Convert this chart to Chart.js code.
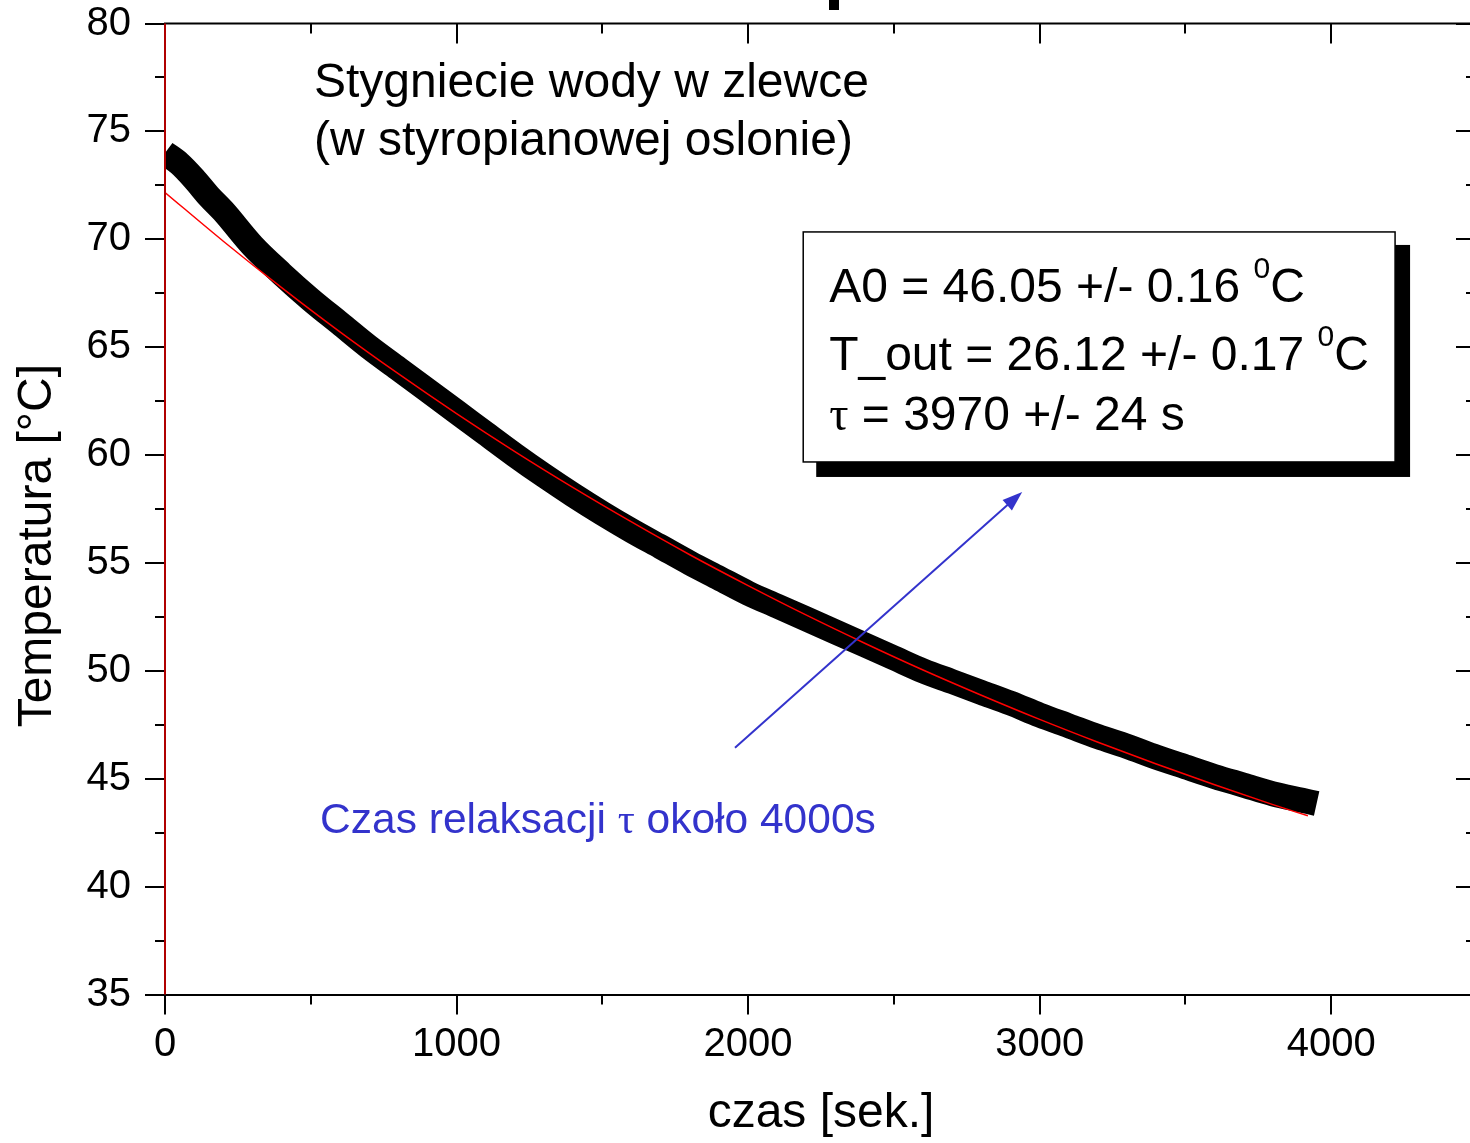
<!DOCTYPE html>
<html><head><meta charset="utf-8">
<script src="https://cdn.jsdelivr.net/npm/chart.js@4/dist/chart.umd.min.js"></script>
<style>
html,body{margin:0;padding:0;background:#fff;overflow:hidden;}
#wrap{position:absolute;left:0;top:0;width:1490px;height:1143px;}
</style></head><body>
<div id="wrap"><canvas id="c" width="1490" height="1143"></canvas></div>
<script>
// measured temperature (centre of the thick data band), time in s
const timeSec = [0,50,100,150,200,300,400,500,600,700,800,900,1000,1100,1200,1300,1400,1500,1600,1700,1800,1900,2000,2100,2200,2300,2400,2500,2600,2700,2800,2900,3000,3100,3200,3300,3400,3500,3600,3700,3800,3900,3950];
const tempMeasured = [74.0,73.5,72.8,72.0,71.3,69.7,68.4,67.2,66.1,65.0,64.0,63.0,62.0,61.0,60.0,59.05,58.15,57.3,56.5,55.75,55.0,54.3,53.6,53.0,52.4,51.8,51.2,50.6,50.0,49.5,49.0,48.5,47.95,47.45,46.95,46.5,46.0,45.55,45.1,44.7,44.3,44.0,43.85];
// fitted curve (red)
const fitTime = [0,200,400,600,800,1000,1200,1400,1600,1800,2000,2200,2400,2600,2800,3000,3200,3400,3600,3800,3920];
const fitTemp = [72.17,69.91,67.76,65.71,63.77,61.92,60.16,58.49,56.90,55.38,53.95,52.58,51.28,50.04,48.87,47.75,46.69,45.68,44.72,43.80,43.28];
// axes
const xMin = 0, xMax = 4500, xMinor = 500;
const yMin = 35, yMax = 80, yMinor = 2.5;
const xTickLabels = [0, 1000, 2000, 3000, 4000];
const yTickLabels = [35, 40, 45, 50, 55, 60, 65, 70, 75, 80];
// texts
const titleLines = ['Stygniecie wody w zlewce', '(w styropianowej oslonie)'];
const fitParams = [['A0 = 46.05 +/- 0.16 ', '0', 'C'], ['T_out = 26.12 +/- 0.17 ', '0', 'C'], ['τ', ' = 3970 +/- 24 s']];
const noteText = ['Czas relaksacji ', 'τ', ' około 4000s'];

const SANS = '"Liberation Sans", Arial, sans-serif';
const SERIF = '"Liberation Serif", "Times New Roman", serif';
const BLUE = '#3333cc';

function runs(ctx, x, y, parts) {
  let cx = x;
  for (const p of parts) {
    ctx.font = p.font;
    ctx.fillText(p.t, cx, y + (p.dy || 0));
    cx += ctx.measureText(p.t).width;
  }
  return cx;
}

const decor = {
  id: 'decor',
  afterDraw(chart) {
    const ctx = chart.ctx, xs = chart.scales.x, ys = chart.scales.y, a = chart.chartArea;
    const px = v => xs.getPixelForValue(v), py = v => ys.getPixelForValue(v);
    ctx.save();
    // top and right spines
    ctx.strokeStyle = '#000'; ctx.lineWidth = 2;
    ctx.beginPath(); ctx.moveTo(a.left - 1, a.top); ctx.lineTo(a.right, a.top); ctx.stroke();
    ctx.beginPath(); ctx.moveTo(a.right, a.top); ctx.lineTo(a.right, a.bottom); ctx.stroke();
    // x ticks (bottom outward, top inward)
    for (let v = xMin; v <= xMax + 1e-6; v += xMinor) {
      const major = xTickLabels.includes(v) || v === xMax;
      const L = major ? 20 : 10, x = Math.round(px(v));
      ctx.beginPath(); ctx.moveTo(x, a.bottom); ctx.lineTo(x, a.bottom + L); ctx.stroke();
      ctx.beginPath(); ctx.moveTo(x, a.top); ctx.lineTo(x, a.top + L); ctx.stroke();
    }
    // y ticks (left outward, right inward)
    for (let v = yMin; v <= yMax + 1e-6; v += yMinor) {
      const major = yTickLabels.includes(v);
      const L = major ? 20 : 10, y = Math.round(py(v));
      ctx.beginPath(); ctx.moveTo(a.left - L, y); ctx.lineTo(a.left, y); ctx.stroke();
      ctx.beginPath(); ctx.moveTo(a.right - L - 1, y); ctx.lineTo(a.right, y); ctx.stroke();
    }
    // left axis line (dark red)
    ctx.strokeStyle = '#b00000'; ctx.lineWidth = 2;
    ctx.beginPath(); ctx.moveTo(Math.round(a.left), a.top); ctx.lineTo(Math.round(a.left), a.bottom); ctx.stroke();

    // stray mark at top (part of cut-off header)
    ctx.fillStyle = '#000';
    ctx.fillRect(Math.round(px(2278)), 0, 10, 10);

    // y-axis title
    ctx.save();
    ctx.translate(a.left - 127, py(55.8));
    ctx.rotate(-Math.PI / 2);
    ctx.textAlign = 'center'; ctx.textBaseline = 'middle';
    ctx.font = '48px ' + SANS; ctx.fillStyle = '#000';
    ctx.fillText('Temperatura [°C]', 0, 0);
    ctx.restore();

    ctx.textAlign = 'left'; ctx.textBaseline = 'alphabetic'; ctx.fillStyle = '#000';
    // title
    ctx.font = '48px ' + SANS;
    ctx.fillText(titleLines[0], px(511), py(76.59));
    ctx.fillText(titleLines[1], px(511), py(73.91));

    // fit-parameter box with shadow
    const bx0 = px(2189), by0 = py(70.34), bx1 = px(4219), by1 = py(59.68);
    ctx.fillStyle = '#000';
    ctx.fillRect(bx0 + 13, by0 + 13, bx1 - bx0 + 2, by1 - by0 + 2);
    ctx.fillStyle = '#fff';
    ctx.fillRect(bx0, by0, bx1 - bx0, by1 - by0);
    ctx.strokeStyle = '#000'; ctx.lineWidth = 1.5;
    ctx.strokeRect(bx0, by0, bx1 - bx0, by1 - by0);
    ctx.fillStyle = '#000';
    const F = '48px ' + SANS, FS = '30px ' + SANS;
    const tx = px(2278);
    runs(ctx, tx, py(67.09), [{t: fitParams[0][0], font: F}, {t: fitParams[0][1], font: FS, dy: -24}, {t: fitParams[0][2], font: F}]);
    runs(ctx, tx, py(63.94), [{t: fitParams[1][0], font: F}, {t: fitParams[1][1], font: FS, dy: -24}, {t: fitParams[1][2], font: F}]);
    runs(ctx, tx, py(61.16), [{t: fitParams[2][0], font: '48px ' + SERIF}, {t: fitParams[2][1], font: F}]);

    // blue note + arrow
    ctx.fillStyle = BLUE;
    const B = '42.5px ' + SANS;
    runs(ctx, px(532), py(42.49), [{t: noteText[0], font: B}, {t: noteText[1], font: '42.5px ' + SERIF}, {t: noteText[2], font: B}]);
    const ax0 = px(1955), ay0 = py(46.43), ax1 = px(2940), ay1 = py(58.29);
    const ang = Math.atan2(ay1 - ay0, ax1 - ax0);
    ctx.strokeStyle = BLUE; ctx.lineWidth = 2;
    ctx.beginPath(); ctx.moveTo(ax0, ay0);
    ctx.lineTo(ax1 - 16 * Math.cos(ang), ay1 - 16 * Math.sin(ang)); ctx.stroke();
    ctx.beginPath();
    ctx.moveTo(ax1, ay1);
    ctx.lineTo(ax1 - 20 * Math.cos(ang) + 7 * Math.sin(ang), ay1 - 20 * Math.sin(ang) - 7 * Math.cos(ang));
    ctx.lineTo(ax1 - 20 * Math.cos(ang) - 7 * Math.sin(ang), ay1 - 20 * Math.sin(ang) + 7 * Math.cos(ang));
    ctx.closePath(); ctx.fill();
    ctx.restore();
  }
};

new Chart(document.getElementById('c').getContext('2d'), {
  type: 'line',
  data: {
    datasets: [
      {
        label: 'fit',
        data: fitTime.map((t, i) => ({x: t, y: fitTemp[i]})),
        borderColor: '#ff0000', borderWidth: 1.5, pointRadius: 0,
        cubicInterpolationMode: 'monotone', clip: 0, order: 0
      },
      {
        label: 'measured',
        data: timeSec.map((t, i) => ({x: t, y: tempMeasured[i]})),
        borderColor: '#000', borderWidth: 25, pointRadius: 0,
        cubicInterpolationMode: 'monotone', borderJoinStyle: 'round', borderCapStyle: 'butt',
        clip: 0, order: 1
      }
    ]
  },
  options: {
    responsive: false, animation: false, devicePixelRatio: 1,
    layout: {padding: {top: 23.5, right: 13, left: 0, bottom: 0}},
    plugins: {legend: {display: false}, tooltip: {enabled: false}},
    scales: {
      x: {
        type: 'linear', min: xMin, max: xMax, position: 'bottom',
        grid: {display: false, drawTicks: false},
        border: {display: true, color: '#000', width: 2},
        ticks: {color: '#000', maxRotation: 0, autoSkip: false,
          font: {family: SANS, size: 40}, padding: 26, callback: v => String(v)},
        afterBuildTicks: s => { s.ticks = xTickLabels.map(v => ({value: v})); },
        title: {display: true, text: 'czas [sek.]', color: '#000', font: {family: SANS, size: 48}, padding: {top: 0, bottom: 0}},
        afterFit: s => { s.height = 148.5; s.paddingLeft = 0; s.paddingRight = 0; }
      },
      y: {
        type: 'linear', min: yMin, max: yMax,
        grid: {display: false, drawTicks: false},
        border: {display: false},
        ticks: {color: '#000', autoSkip: false, font: {family: SANS, size: 40}, padding: 34},
        afterBuildTicks: s => { s.ticks = yTickLabels.map(v => ({value: v})); },
        afterFit: s => { s.width = 165; s.paddingTop = 0; s.paddingBottom = 0; }
      }
    }
  },
  plugins: [decor]
});
</script>
</body></html>
